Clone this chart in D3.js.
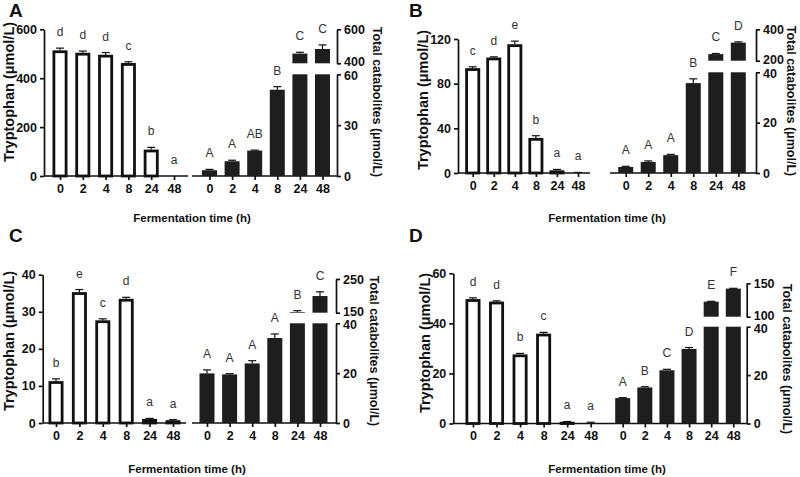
<!DOCTYPE html>
<html>
<head>
<meta charset="utf-8">
<script src="https://cdn.jsdelivr.net/npm/d3@7"></script>
<style>
  body { margin: 0; background: #fff; }
  svg { display: block; font-family: "Liberation Sans", Arial, sans-serif; }
</style>
</head>
<body>
<svg id="chart" width="800" height="477"></svg>
<script>
const times = ["0", "2", "4", "8", "24", "48"];

// A
const trpA = [514, 504, 496, 462, 108, 0.5];
const trpSdA = [9, 7, 9, 5, 9, 0];
const trpLetA = ["d", "d", "d", "c", "b", "a"];
const catA = [3.4, 8.7, 15.0, 50.9, 457, 484];
const catSdA = [0.5, 0.6, 0.3, 1.8, 8, 24];
const catLetA = ["A", "A", "AB", "B", "C", "C"];
const trpTicksA = [0, 200, 400, 600];
const lowTicksA = [0, 30, 60];
const highTicksA = [400, 600];

// B
const trpB = [93.9, 103.4, 115.3, 31.4, 2.4, 0.3];
const trpSdB = [1.2, 0.6, 2.8, 2.0, 0.8, 0.2];
const trpLetB = ["c", "d", "e", "b", "a", "a"];
const catB = [2.4, 4.4, 7.1, 35.7, 242, 315];
const catSdB = [0.25, 0.4, 0.3, 1.7, 4, 5];
const catLetB = ["A", "A", "A", "B", "C", "D"];
const trpTicksB = [0, 40, 80, 120];
const lowTicksB = [0, 20, 40];
const highTicksB = [200, 400];

// C
const trpC = [11.3, 35.3, 27.7, 33.5, 1.1, 0.75];
const trpSdC = [0.6, 0.7, 0.4, 0.4, 0.15, 0.15];
const trpLetC = ["b", "e", "c", "d", "a", "a"];
const catC = [19.9, 19.5, 23.9, 34.1, 152, 199.5];
const catSdC = [1.4, 0.3, 1.1, 1.6, 4, 12.5];
const catLetC = ["A", "A", "A", "A", "B", "C"];
const trpTicksC = [0, 10, 20, 30, 40];
const lowTicksC = [0, 20, 40];
const highTicksC = [150, 250];

// D
const trpD = [49.7, 48.7, 27.6, 35.9, 0.7, 0.4];
const trpSdD = [0.5, 0.3, 0.4, 0.5, 0.1, 0.1];
const trpLetD = ["d", "d", "b", "c", "a", "a"];
const catD = [10.5, 14.9, 22.0, 30.8, 122.5, 142];
const catSdD = [0.2, 0.3, 0.4, 0.6, 0.5, 0.5];
const catLetD = ["A", "B", "C", "D", "E", "F"];
const trpTicksD = [0, 20, 40, 60];
const lowTicksD = [0, 20, 40];
const highTicksD = [100, 150];

const svg = d3.select("#chart");
const bw = 15;      // bar width
const ink = "#111";

// panel layout (pixel geometry lives here, not in the data)
const panels = [
  {name: "A", trp: trpA, trpSd: trpSdA, trpLet: trpLetA, cat: catA, catSd: catSdA, catLet: catLetA,
   trpTicks: trpTicksA, lowTicks: lowTicksA, highTicks: highTicksA,
   base: 176, leftX: 44, leftTop: 29.3, leftPts: [60, 174], leftEnd: 188,
   rightStart: 192, rightPts: [209.5, 322.5], rightX: 337, lowTop: 74.3, highBottom: 63.3, highTop: 29.3,
   yTitleL: [9, 92], yTitleR: [377, 102], xTitle: [192, 218], tag: [9, 17]},
  {name: "B", trp: trpB, trpSd: trpSdB, trpLet: trpLetB, cat: catB, catSd: catSdB, catLet: catLetB,
   trpTicks: trpTicksB, lowTicks: lowTicksB, highTicks: highTicksB,
   base: 173, leftX: 458, leftTop: 39, leftPts: [472.7, 578], leftEnd: 590,
   rightStart: 610, rightPts: [625.7, 738.3], rightX: 756, lowTop: 72.3, highBottom: 60.7, highTop: 29.3,
   yTitleL: [422.5, 100], yTitleR: [791, 101], xTitle: [607, 218], tag: [409, 17]},
  {name: "C", trp: trpC, trpSd: trpSdC, trpLet: trpLetC, cat: catC, catSd: catSdC, catLet: catLetC,
   trpTicks: trpTicksC, lowTicks: lowTicksC, highTicks: highTicksC,
   base: 423, leftX: 42.7, leftTop: 274.7, leftPts: [56, 173], leftEnd: 186,
   rightStart: 192, rightPts: [207, 320], rightX: 336, lowTop: 323.3, highBottom: 312.7, highTop: 279,
   yTitleL: [9, 341], yTitleR: [374, 351], xTitle: [187, 469], tag: [9, 242]},
  {name: "D", trp: trpD, trpSd: trpSdD, trpLet: trpLetD, cat: catD, catSd: catSdD, catLet: catLetD,
   trpTicks: trpTicksD, lowTicks: lowTicksD, highTicks: highTicksD,
   base: 423.5, leftX: 453.3, leftTop: 273.3, leftPts: [473, 590.7], leftEnd: 608,
   rightStart: 608, rightPts: [622.7, 733.3], rightX: 746.7, lowTop: 326.7, highBottom: 316.7, highTop: 283.3,
   yTitleL: [424.5, 343], yTitleR: [787, 359], xTitle: [607, 469], tag: [409, 242]}
];

const styleAxis = function(g) {
  g.selectAll("path, line").attr("stroke", ink).attr("stroke-width", 1.7);
  g.selectAll("text").attr("fill", ink).attr("font-size", 12.5).attr("font-weight", "bold")
    .attr("font-family", "'Liberation Sans', Arial, sans-serif");
};

const drawErr = function(g, x, yBar, yTop) {
  g.append("line").attr("x1", x).attr("x2", x).attr("y1", yBar).attr("y2", yTop)
    .attr("stroke", ink).attr("stroke-width", 1.2);
  g.append("line").attr("x1", x - 4).attr("x2", x + 4).attr("y1", yTop).attr("y2", yTop)
    .attr("stroke", ink).attr("stroke-width", 1.2);
};

const drawLetter = function(g, x, y, s) {
  g.append("text").attr("x", x).attr("y", y - 16).attr("text-anchor", "middle")
    .attr("dominant-baseline", "central").attr("font-size", 12).attr("fill", "#333")
    .text(s);
};

const drawPanel = function(p) {
  const g = svg.append("g");
  const yL = d3.scaleLinear().domain([0, d3.max(p.trpTicks)]).range([p.base, p.leftTop]);
  const yLow = d3.scaleLinear().domain([0, d3.max(p.lowTicks)]).range([p.base, p.lowTop]);
  const yHigh = d3.scaleLinear().domain(d3.extent(p.highTicks)).range([p.highBottom, p.highTop]);
  const xL = d3.scalePoint().domain(times).range(p.leftPts);
  const xR = d3.scalePoint().domain(times).range(p.rightPts);
  const lowMax = d3.max(p.lowTicks);
  const highMin = d3.min(p.highTicks);

  // baselines
  g.append("line").attr("x1", p.leftX).attr("x2", p.leftEnd).attr("y1", p.base).attr("y2", p.base)
    .attr("stroke", ink).attr("stroke-width", 1.7);
  g.append("line").attr("x1", p.rightStart).attr("x2", p.rightX).attr("y1", p.base).attr("y2", p.base)
    .attr("stroke", ink).attr("stroke-width", 1.7);

  // x axes
  g.append("g").attr("transform", `translate(0,${p.base})`)
    .call(d3.axisBottom(xL).tickSize(4).tickSizeOuter(0).tickPadding(4))
    .call(a => a.select(".domain").remove()).call(styleAxis);
  g.append("g").attr("transform", `translate(0,${p.base})`)
    .call(d3.axisBottom(xR).tickSize(4).tickSizeOuter(0).tickPadding(4))
    .call(a => a.select(".domain").remove()).call(styleAxis);

  // y axes
  g.append("g").attr("transform", `translate(${p.leftX},0)`)
    .call(d3.axisLeft(yL).tickValues(p.trpTicks).tickSize(4).tickSizeOuter(0).tickPadding(3))
    .call(styleAxis);
  g.append("g").attr("transform", `translate(${p.rightX},0)`)
    .call(d3.axisRight(yLow).tickValues(p.lowTicks).tickSize(4).tickSizeOuter(0).tickPadding(3))
    .call(styleAxis)
    .call(a => a.selectAll(".tick text").filter(d => d === lowMax).attr("dy", "0.45em"));
  g.append("g").attr("transform", `translate(${p.rightX},0)`)
    .call(d3.axisRight(yHigh).tickValues(p.highTicks).tickSize(4).tickSizeOuter(0).tickPadding(3))
    .call(styleAxis)
    .call(a => a.selectAll(".tick text").filter(d => d === highMin).attr("dy", "0.2em"));

  // tryptophan bars (open)
  times.forEach((t, i) => {
    const v = p.trp[i];
    const yv = yL(v);
    const x = xL(t);
    if (p.base - yv > 0.5) {
      g.append("rect").attr("x", x - bw / 2 + 1.4).attr("width", bw - 2.8)
        .attr("y", yv + 1.4).attr("height", Math.max(0, p.base - yv - 1.4))
        .attr("fill", "#fff").attr("stroke", ink).attr("stroke-width", 2.8);
    }
    if (p.trpSd[i] > 0) drawErr(g, x, yv, yL(v + p.trpSd[i]));
    drawLetter(g, x, yL(v + p.trpSd[i]), p.trpLet[i]);
  });

  // catabolite bars (filled, broken axis)
  times.forEach((t, i) => {
    const v = p.cat[i];
    const x = xR(t);
    let yTop;
    if (v <= lowMax) {
      g.append("rect").attr("x", x - bw / 2).attr("width", bw)
        .attr("y", yLow(v)).attr("height", p.base - yLow(v)).attr("fill", "#1e1e1e");
      yTop = yLow(v + p.catSd[i]);
      drawErr(g, x, yLow(v), yTop);
    } else {
      g.append("rect").attr("x", x - bw / 2).attr("width", bw)
        .attr("y", yLow(lowMax)).attr("height", p.base - yLow(lowMax)).attr("fill", "#1e1e1e");
      g.append("rect").attr("x", x - bw / 2).attr("width", bw)
        .attr("y", yHigh(v)).attr("height", p.highBottom - yHigh(v)).attr("fill", "#1e1e1e");
      yTop = yHigh(v + p.catSd[i]);
      drawErr(g, x, yHigh(v), yTop);
    }
    drawLetter(g, x, yTop, p.catLet[i]);
  });

  // titles
  g.append("text").attr("transform", `translate(${p.yTitleL[0]},${p.yTitleL[1]}) rotate(-90)`)
    .attr("text-anchor", "middle").attr("dominant-baseline", "central")
    .attr("font-size", 14.5).attr("font-weight", "bold").attr("fill", ink)
    .text("Tryptophan (\u03bcmol/L)");
  g.append("text").attr("transform", `translate(${p.yTitleR[0]},${p.yTitleR[1]}) rotate(90)`)
    .attr("text-anchor", "middle").attr("dominant-baseline", "central")
    .attr("font-size", 12.5).attr("font-weight", "bold").attr("fill", ink)
    .text("Total catabolites (\u03bcmol/L)");
  g.append("text").attr("x", p.xTitle[0]).attr("y", p.xTitle[1])
    .attr("text-anchor", "middle").attr("dominant-baseline", "central")
    .attr("font-size", 11.5).attr("font-weight", "bold").attr("fill", ink)
    .text("Fermentation time (h)");
  g.append("text").attr("x", p.tag[0]).attr("y", p.tag[1])
    .attr("font-size", 19).attr("font-weight", "bold").attr("fill", ink)
    .text(p.name);
};

panels.forEach(drawPanel);
</script>
</body>
</html>
